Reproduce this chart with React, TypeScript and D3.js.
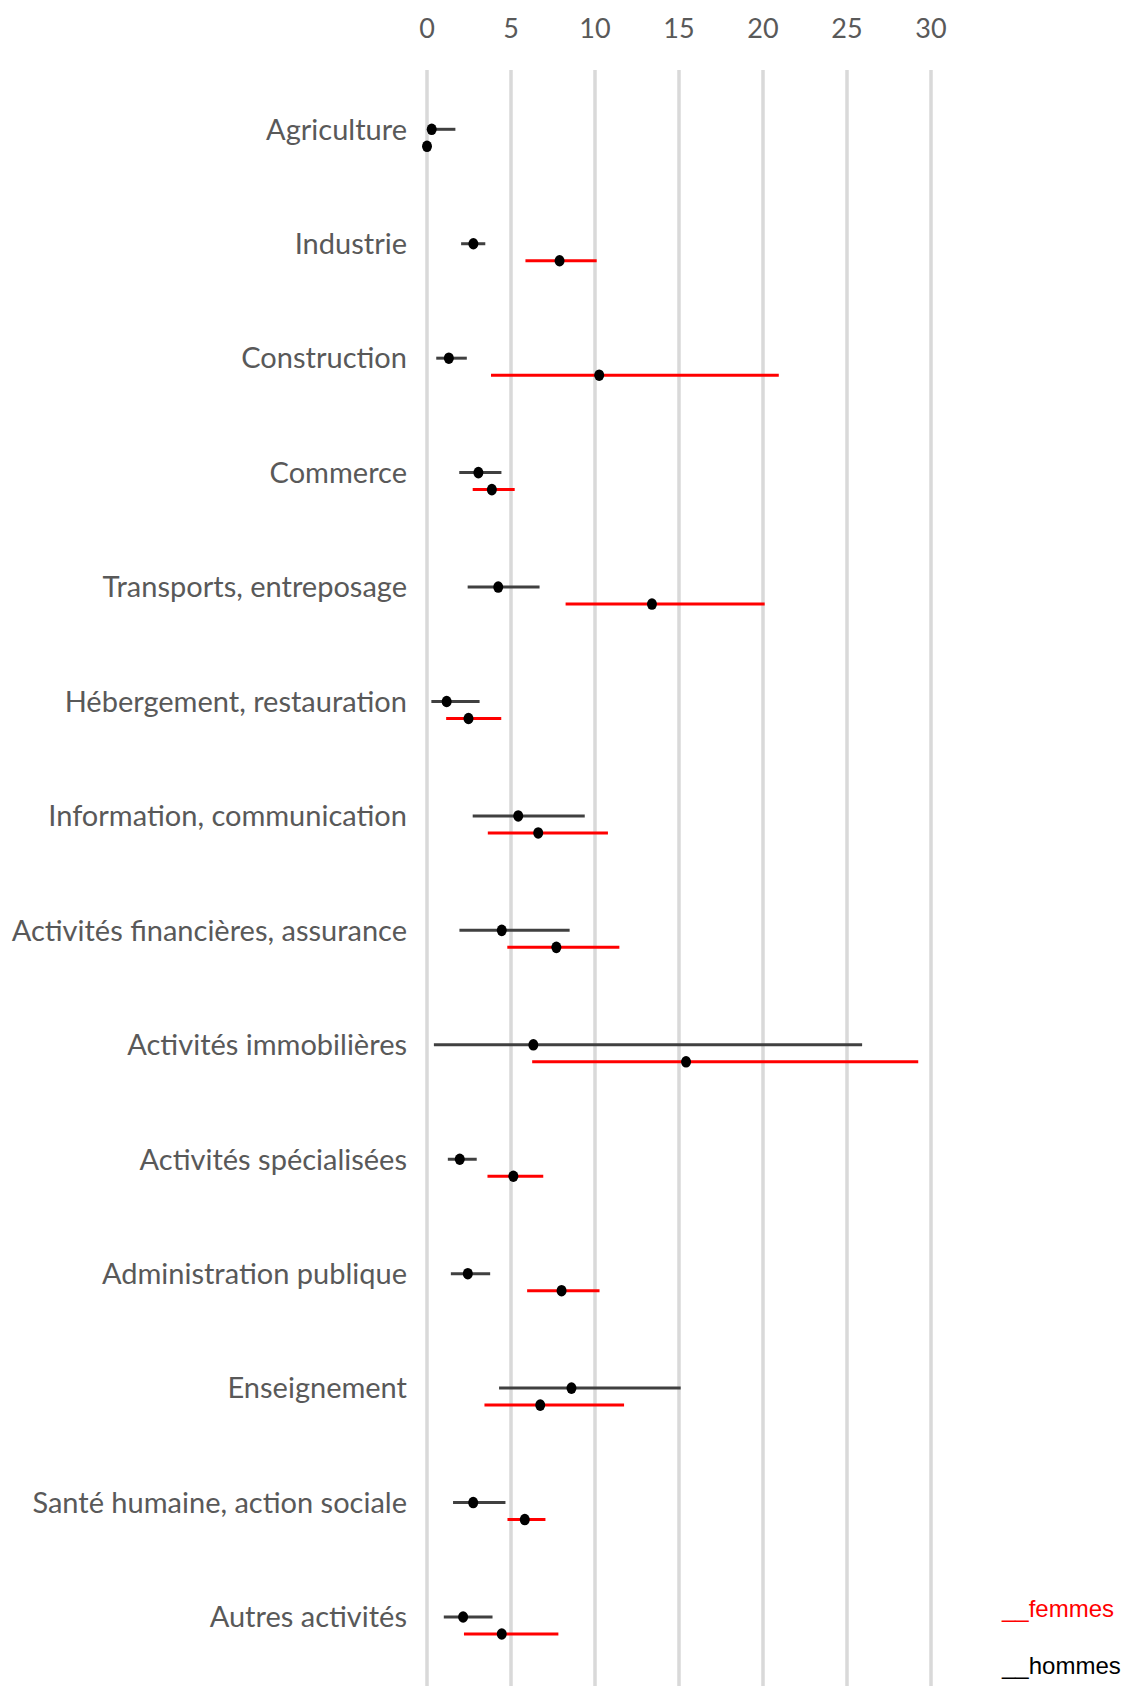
import React from "react";
import * as d3 from "d3";

const categories = [
  "Agriculture",
  "Industrie",
  "Construction",
  "Commerce",
  "Transports, entreposage",
  "Hébergement, restauration",
  "Information, communication",
  "Activités financières, assurance",
  "Activités immobilières",
  "Activités spécialisées",
  "Administration publique",
  "Enseignement",
  "Santé humaine, action sociale",
  "Autres activités",
];

const hommesValue = [0.28, 2.76, 1.3, 3.06, 4.24, 1.17, 5.43, 4.45, 6.33, 1.95, 2.43, 8.6, 2.75, 2.15];
const hommesLow = [0.15, 2.03, 0.55, 1.92, 2.42, 0.26, 2.72, 1.93, 0.41, 1.24, 1.42, 4.29, 1.55, 1.0];
const hommesHigh = [1.69, 3.47, 2.37, 4.43, 6.7, 3.13, 9.39, 8.49, 25.9, 2.96, 3.76, 15.1, 4.67, 3.9];

const femmesValue = [0, 7.89, 10.25, 3.86, 13.39, 2.47, 6.62, 7.7, 15.42, 5.14, 8.01, 6.74, 5.82, 4.45];
const femmesLow = [0, 5.86, 3.81, 2.72, 8.25, 1.14, 3.62, 4.78, 6.26, 3.6, 5.96, 3.42, 4.79, 2.2];
const femmesHigh = [0, 10.1, 20.94, 5.22, 20.1, 4.42, 10.77, 11.45, 29.24, 6.92, 10.27, 11.73, 7.05, 7.82];

const xTicks = [0, 5, 10, 15, 20, 25, 30];
const legendLabels = ["__femmes", "__hommes"];

const W = 1122;
const H = 1686;

export default function App() {
  const x = d3.scaleLinear().domain([0, 30]).range([427, 931]);
  const y = d3
    .scalePoint<string>()
    .domain(categories)
    .range([129.3, 1617]);
  const femOffset = 17;
  const labelFont = "Lato, Carlito, Calibri, sans-serif";

  return (
    <svg
      width={W}
      height={H}
      style={{ position: "absolute", left: 0, top: 0, background: "#fff" }}
    >
      {xTicks.map((t) => (
        <g key={t}>
          <line
            x1={x(t)}
            x2={x(t)}
            y1={70}
            y2={H}
            stroke="#d9d9d9"
            strokeWidth={3.5}
          />
          <text
            x={x(t)}
            y={38}
            textAnchor="middle"
            fontFamily={labelFont}
            fontSize={27}
            fill="#595959"
          >
            {t}
          </text>
        </g>
      ))}
      {categories.map((c, i) => {
        const yh = y(c)!;
        const yf = yh + femOffset;
        return (
          <g key={c}>
            <text
              x={407}
              y={yh + 10.3}
              textAnchor="end"
              fontFamily={labelFont}
              fontSize={29}
              fill="#595959"
            >
              {c}
            </text>
            <line
              x1={x(hommesLow[i])}
              x2={x(hommesHigh[i])}
              y1={yh}
              y2={yh}
              stroke="#404040"
              strokeWidth={3}
            />
            <ellipse cx={x(hommesValue[i])} cy={yh} rx={5} ry={5.8} fill="#000" />
            {femmesHigh[i] > femmesLow[i] && (
              <line
                x1={x(femmesLow[i])}
                x2={x(femmesHigh[i])}
                y1={yf}
                y2={yf}
                stroke="#ff0000"
                strokeWidth={3}
              />
            )}
            <ellipse cx={x(femmesValue[i])} cy={yf} rx={5} ry={5.8} fill="#000" />
          </g>
        );
      })}
      <text
        x={1002}
        y={1617}
        fontFamily="'Liberation Sans', Arial, sans-serif"
        fontSize={24}
        fill="#ff0000"
      >
        {legendLabels[0]}
      </text>
      <text
        x={1002}
        y={1674}
        fontFamily="'Liberation Sans', Arial, sans-serif"
        fontSize={24}
        fill="#000"
      >
        {legendLabels[1]}
      </text>
    </svg>
  );
}
